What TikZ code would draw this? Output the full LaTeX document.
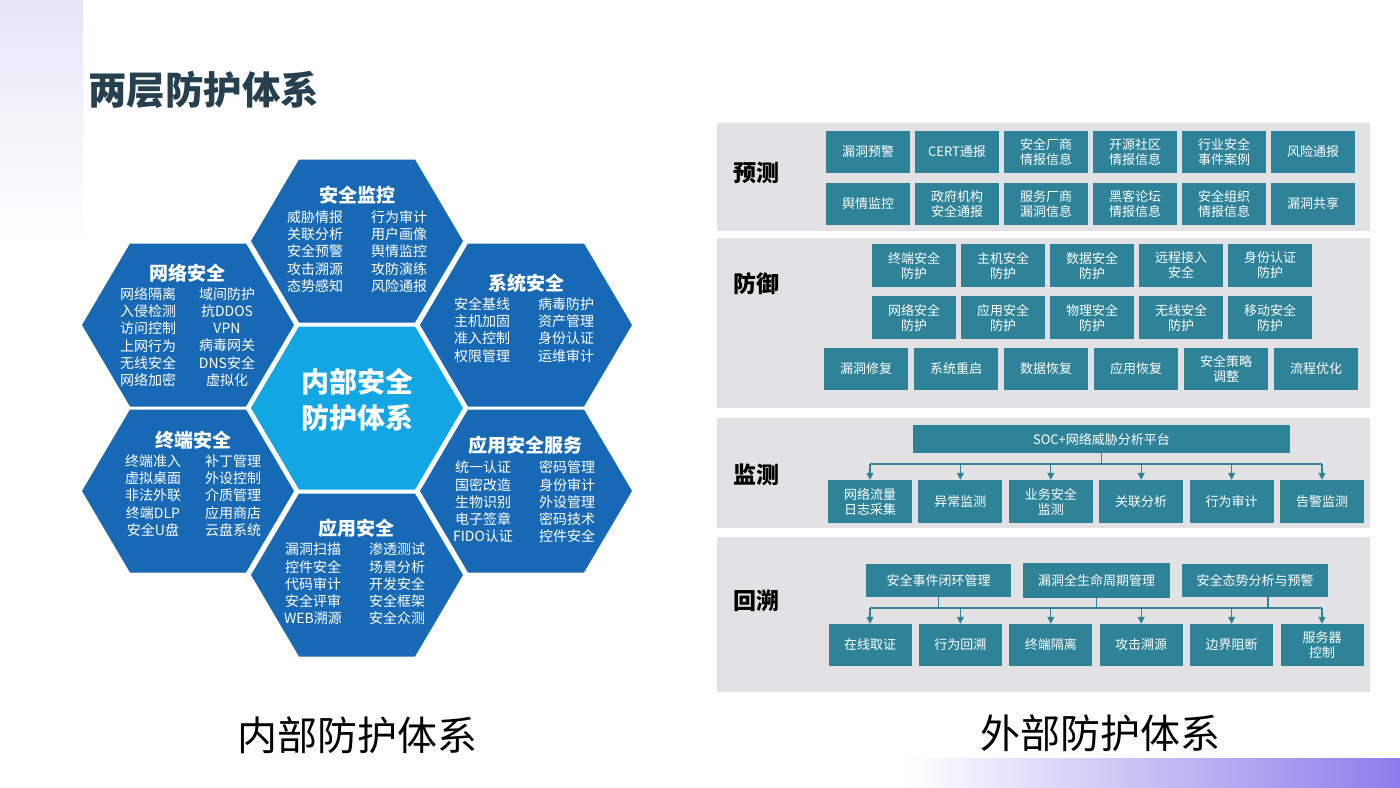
\documentclass[tikz,border=0pt]{standalone}
\usepackage{fontspec}
\usepackage{xcolor}
\usepackage{tikz}
\usetikzlibrary{arrows.meta}
\newfontfamily\cjk{Noto Sans CJK SC}

\definecolor{hexdark}{HTML}{1769B5}
\definecolor{hexlight}{HTML}{12A6E4}
\definecolor{boxteal}{HTML}{2E8398}
\definecolor{panelgray}{HTML}{E2E2E4}
\definecolor{titleink}{HTML}{25404F}
\definecolor{barpurple}{HTML}{8C7EEA}
\definecolor{striplav}{HTML}{E6E6F7}

\begin{document}
\begin{tikzpicture}[x=1pt, y=-1pt,
    hextitle/.style={text=white, font=\cjk\bfseries\fontsize{19}{22}\selectfont, inner sep=0pt},
    hexitem/.style={text=white, font=\cjk\fontsize{14}{17.25}\selectfont, align=center, inner sep=0pt},
    stage/.style={font=\cjk\bfseries\fontsize{23}{26}\selectfont, inner sep=0pt},
    tbox/.style={fill=boxteal, text=white, font=\cjk\fontsize{13}{15}\selectfont, align=center,
        inner sep=0pt, minimum width=84pt, minimum height=42pt},
    link/.style={draw=boxteal, line width=1.1pt},
    feed/.style={link, -{Triangle[length=7pt, width=7pt]}}]
    \useasboundingbox (0,0) rectangle (1400,787);

    % background decoration
    \shade[top color=striplav, bottom color=white] (0,0) rectangle (83,240);
    \shade[left color=white, right color=barpurple] (905,758) rectangle (1400,787);

    \node[anchor=west, text=titleink, font=\cjk\bfseries\fontsize{38.5}{42}\selectfont, inner sep=0pt] (heading) at (88,90) {两层防护体系};

    % hexagon cells
    \foreach \cx/\cy/\fc in {357/241/hexdark, 188/325/hexdark, 526/325/hexdark,
                              188/491/hexdark, 526/491/hexdark, 357/575/hexdark, 357/408/hexlight}
        \fill[\fc] ({\cx-106},\cy) -- ({\cx-58},{\cy-81.5}) -- ({\cx+58},{\cy-81.5})
            -- ({\cx+106},\cy) -- ({\cx+58},{\cy+81.5}) -- ({\cx-58},{\cy+81.5}) -- cycle;

    \node[text=white, font=\cjk\bfseries\fontsize{28}{36}\selectfont, align=center, inner sep=0pt] (core) at (357,400) {内部安全\\防护体系};

    \node[hextitle] (monT) at (357,195) {安全监控};
    \node[hexitem] (monA) at (315,251.5) {威胁情报\\关联分析\\安全预警\\攻击溯源\\态势感知};
    \node[hexitem] (monB) at (399,251.5) {行为审计\\用户画像\\舆情监控\\攻防演练\\风险通报};

    \node[hextitle] (netT) at (187,273) {网络安全};
    \node[hexitem] (netA) at (148,337) {网络隔离\\入侵检测\\访问控制\\上网行为\\无线安全\\网络加密};
    \node[hexitem] (netB) at (227,337) {域间防护\\抗DDOS\\VPN\\病毒网关\\DNS安全\\虚拟化};

    \node[hextitle] (sysT) at (526,283) {系统安全};
    \node[hexitem] (sysA) at (482,330) {安全基线\\主机加固\\准入控制\\权限管理};
    \node[hexitem] (sysB) at (566,330) {病毒防护\\资产管理\\身份认证\\运维审计};

    \node[hextitle] (endT) at (193,440) {终端安全};
    \node[hexitem] (endA) at (153,495.5) {终端准入\\虚拟桌面\\非法外联\\终端DLP\\安全U盘};
    \node[hexitem] (endB) at (233,495.5) {补丁管理\\外设控制\\介质管理\\应用商店\\云盘系统};

    \node[hextitle] (srvT) at (525,445) {应用安全服务};
    \node[hexitem] (srvA) at (483,502) {统一认证\\国密改造\\生物识别\\电子签章\\FIDO认证};
    \node[hexitem] (srvB) at (567,502) {密码管理\\身份审计\\外设管理\\密码技术\\控件安全};

    \node[hextitle] (appT) at (356,528) {应用安全};
    \node[hexitem] (appA) at (313,584) {漏洞扫描\\控件安全\\代码审计\\安全评审\\WEB溯源};
    \node[hexitem] (appB) at (397,584) {渗透测试\\场景分析\\开发安全\\安全框架\\安全众测};

    \node[font=\cjk\fontsize{40}{44}\selectfont, inner sep=0pt] (inLabel) at (357,735) {内部防护体系};

    % stage panels
    \fill[panelgray] (717,123) rectangle (1370,231);
    \fill[panelgray] (717,238) rectangle (1370,408);
    \fill[panelgray] (717,418) rectangle (1370,528);
    \fill[panelgray] (717,537) rectangle (1370,692);

    \node[stage] (predict) at (756,173) {预测};
    \node[stage] (defend) at (756,284) {防御};
    \node[stage] (monitor) at (756,475) {监测};
    \node[stage] (trace) at (756,601) {回溯};

    % prediction
    \foreach \t [count=\i] in {漏洞预警, CERT通报, 安全厂商\\情报信息, 开源社区\\情报信息, 行业安全\\事件案例, 风险通报}
        \node[tbox] (p\i) at ({779+89*\i},152) {\t};
    \foreach \t [count=\i] in {舆情监控, 政府机构\\安全通报, 服务厂商\\漏洞信息, 黑客论坛\\情报信息, 安全组织\\情报信息, 漏洞共享}
        \node[tbox] (q\i) at ({779+89*\i},204) {\t};

    % defence
    \foreach \t [count=\i] in {终端安全\\防护, 主机安全\\防护, 数据安全\\防护, 远程接入\\安全, 身份认证\\防护}
        \node[tbox, minimum height=43pt] (d\i) at ({825+89*\i},265.5) {\t};
    \foreach \t [count=\i] in {网络安全\\防护, 应用安全\\防护, 物理安全\\防护, 无线安全\\防护, 移动安全\\防护}
        \node[tbox, minimum height=43pt] (e\i) at ({825+89*\i},317.5) {\t};
    \foreach \t [count=\i] in {漏洞修复, 系统重启, 数据恢复, 应用恢复, 安全策略\\调整, 流程优化}
        \node[tbox] (r\i) at ({776+90*\i},369) {\t};

    % monitoring
    \node[tbox, minimum width=377pt, minimum height=28pt] (soc) at (1101.5,439) {SOC+网络威胁分析平台};
    \foreach \t [count=\i] in {网络流量\\日志采集, 异常监测, 业务安全\\监测, 关联分析, 行为审计, 告警监测}
        \node[tbox, minimum height=43pt] (m\i) at ({779.6+90.4*\i},501.5) {\t};
    \coordinate (busM) at (870,464);
    \draw[link] (soc.south) -- (soc.south |- busM);
    \draw[link] (m1 |- busM) -- (m6 |- busM);
    \foreach \i in {1,...,6}
        \draw[feed] (m\i |- busM) -- (m\i.north);

    % tracing back
    \node[tbox, minimum width=145pt, minimum height=33pt] (c1) at (938.5,580.5) {安全事件闭环管理};
    \node[tbox, minimum width=147pt, minimum height=35pt] (c2) at (1096.5,580.5) {漏洞全生命周期管理};
    \node[tbox, minimum width=146pt, minimum height=33pt] (c3) at (1255,580.5) {安全态势分析与预警};
    \foreach \t [count=\i] in {在线取证, 行为回溯, 终端隔离, 攻击溯源, 边界阻断, 服务器\\控制}
        \node[tbox, minimum width=83pt] (b\i) at ({779.6+90.4*\i},645) {\t};
    \coordinate (busB) at (870,608);
    \draw[link] (c1.south) -- (c1.south |- busB);
    \draw[link] (c2.south) -- (c2.south |- busB);
    \draw[link] ([xshift=13pt]c3.south) -- ([xshift=13pt]c3.south |- busB);
    \draw[link] (b1 |- busB) -- (b6 |- busB);
    \foreach \i in {1,...,6}
        \draw[feed] (b\i |- busB) -- (b\i.north);

    \node[font=\cjk\fontsize{40}{44}\selectfont, inner sep=0pt] (outLabel) at (1100,733) {外部防护体系};
\end{tikzpicture}
\end{document}
